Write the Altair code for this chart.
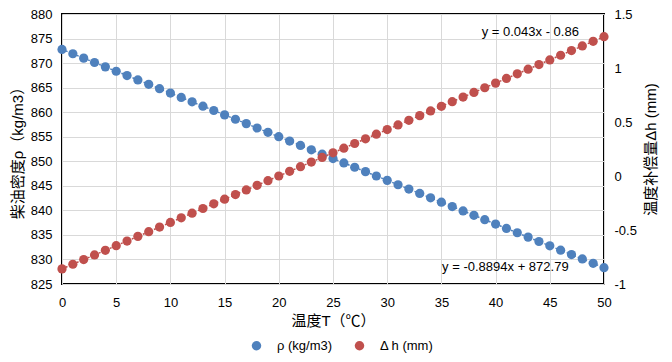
import altair as alt
import pandas as pd

temps = list(range(0, 51))
rho = [872.79, 871.90, 871.01, 870.12, 869.23, 868.34, 867.45, 866.56, 865.67, 864.78,
       863.90, 863.01, 862.12, 861.23, 860.34, 859.45, 858.56, 857.67, 856.78, 855.89,
       855.00, 854.11, 853.22, 852.33, 851.44, 850.56, 849.67, 848.78, 847.89, 847.00,
       846.11, 845.22, 844.33, 843.44, 842.55, 841.66, 840.77, 839.88, 838.99, 838.10,
       837.21, 836.32, 835.44, 834.55, 833.66, 832.77, 831.88, 830.99, 830.10, 829.21,
       828.32]
dh = [-0.860, -0.817, -0.774, -0.731, -0.688, -0.645, -0.602, -0.559, -0.516, -0.473,
      -0.430, -0.387, -0.344, -0.301, -0.258, -0.215, -0.172, -0.129, -0.086, -0.043,
      0.000, 0.043, 0.086, 0.129, 0.172, 0.215, 0.258, 0.301, 0.344, 0.387,
      0.430, 0.473, 0.516, 0.559, 0.602, 0.645, 0.688, 0.731, 0.774, 0.817,
      0.860, 0.903, 0.946, 0.989, 1.032, 1.075, 1.118, 1.161, 1.204, 1.247,
      1.290]

series_names = ["ρ (kg/m3)", "Δ h (mm)"]
series_colors = ["#4F81BD", "#C0504D"]
eq_texts = ["y = -0.8894x + 872.79", "y = 0.043x - 0.86"]
eq_x = [40.9, 43.2]
eq_y = [828.5, 1.33]

df_rho = pd.DataFrame({"T": temps, "v": rho, "s": series_names[0]})
df_dh = pd.DataFrame({"T": temps, "v": dh, "s": series_names[1]})
ann_rho = pd.DataFrame({"T": [eq_x[0]], "v": [eq_y[0]], "t": [eq_texts[0]]})
ann_dh = pd.DataFrame({"T": [eq_x[1]], "v": [eq_y[1]], "t": [eq_texts[1]]})

FONT = "Liberation Sans, Noto Sans CJK SC, sans-serif"

x_axis = alt.Axis(values=list(range(0, 51, 5)), title="温度T（℃）",
                  labelFlush=False, labelPadding=12, titlePadding=4, grid=True)
x_scale = alt.Scale(domain=[0, 50], nice=False)
color = alt.Color("s:N", scale=alt.Scale(domain=series_names, range=series_colors),
                  legend=alt.Legend(title=None, orient="none", direction="horizontal",
                                    legendX=188, legendY=325,
                                    symbolType="circle", symbolSize=90, labelFontSize=13,
                                    columnPadding=20, labelOffset=14,
                                    labelFont=FONT))

yl_scale = alt.Scale(domain=[825, 880], nice=False, zero=False)
yl_axis = alt.Axis(values=list(range(825, 881, 5)), title="柴油密度ρ（kg/m3）",
                   orient="left", grid=True, labelPadding=10, titlePadding=5)
yr_scale = alt.Scale(domain=[-1, 1.5], nice=False, zero=False)
yr_axis = alt.Axis(values=[-1, -0.5, 0, 0.5, 1, 1.5], title="温度补偿量Δh (mm)",
                   labelExpr="datum.value + ''", titleAngle=270,
                   orient="right", grid=False, labelPadding=10, titlePadding=22)


def xe():
    return alt.X("T:Q", scale=x_scale, axis=x_axis)


def ye(scale, axis):
    return alt.Y("v:Q", scale=scale, axis=axis)


pts_rho = alt.Chart(df_rho).mark_circle(size=85, opacity=1).encode(
    x=xe(), y=ye(yl_scale, yl_axis), color=color)
trend_rho = alt.Chart(df_rho).transform_regression("T", "v").mark_line(
    color=series_colors[0], strokeDash=[2, 2], strokeWidth=1.5).encode(
    x=xe(), y=ye(yl_scale, yl_axis))
txt_rho = alt.Chart(ann_rho).mark_text(fontSize=13, font=FONT, color="#000").encode(
    x=xe(), y=ye(yl_scale, yl_axis), text="t:N")

pts_dh = alt.Chart(df_dh).mark_circle(size=85, opacity=1).encode(
    x=xe(), y=ye(yr_scale, yr_axis), color=color)
trend_dh = alt.Chart(df_dh).transform_regression("T", "v").mark_line(
    color=series_colors[1], strokeDash=[2, 2], strokeWidth=1.5).encode(
    x=xe(), y=ye(yr_scale, yr_axis))
txt_dh = alt.Chart(ann_dh).mark_text(fontSize=13, font=FONT, color="#000").encode(
    x=xe(), y=ye(yr_scale, yr_axis), text="t:N")

left = alt.layer(pts_rho, trend_rho, txt_rho)
right = alt.layer(pts_dh, trend_dh, txt_dh)

chart = alt.layer(left, right).resolve_scale(y="independent").properties(
    width=542, height=270,
    autosize=alt.AutoSizeParams(type="none"),
    padding={"left": 54, "top": 6, "right": 60, "bottom": 70},
).configure_view(stroke="#000", strokeWidth=2).configure_axis(
    domain=False, ticks=False, gridColor="#d9d9d9", gridWidth=1,
    labelFont=FONT, labelFontSize=13, labelColor="#000",
    titleFont=FONT, titleFontSize=15, titleFontWeight="normal", titleColor="#000",
).configure_legend(labelColor="#000")

chart.save("out.html", embed_options={"renderer": "svg", "actions": False})
